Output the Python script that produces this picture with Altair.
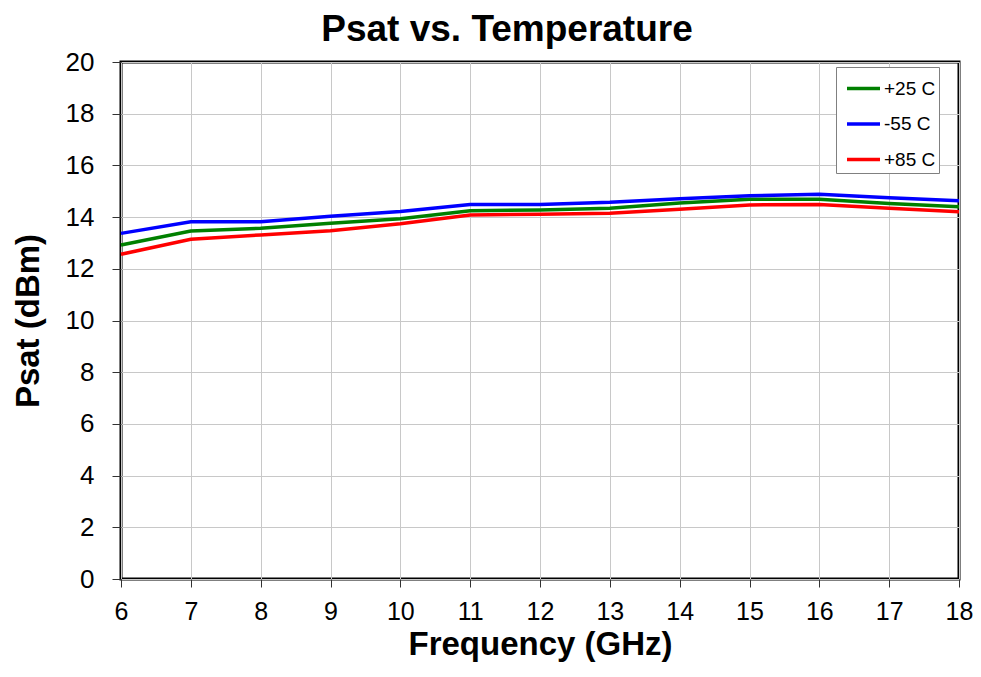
import altair as alt
import pandas as pd

freq = [6, 7, 8, 9, 10, 11, 12, 13, 14, 15, 16, 17, 18]
psat_p25 = [12.92, 13.46, 13.57, 13.76, 13.94, 14.25, 14.27, 14.34, 14.55, 14.69, 14.69, 14.53, 14.40]
psat_m55 = [13.37, 13.82, 13.82, 14.03, 14.22, 14.49, 14.49, 14.57, 14.71, 14.83, 14.88, 14.75, 14.63]
psat_p85 = [12.56, 13.14, 13.31, 13.47, 13.74, 14.08, 14.11, 14.15, 14.30, 14.47, 14.49, 14.34, 14.21]
series = ["+25 C", "-55 C", "+85 C"]
colors = ["#008000", "#0000ff", "#ff0000"]
y_ticks = list(range(0, 21, 2))

rows = []
for name, vals in zip(series, [psat_p25, psat_m55, psat_p85]):
    for f, v in zip(freq, vals):
        rows.append({"freq": f, "psat": v, "series": name})
df = pd.DataFrame(rows)

FONT = "Liberation Sans"

chart = alt.Chart(df).mark_line(strokeWidth=3.5).encode(
    x=alt.X("freq:Q", title="Frequency (GHz)",
            scale=alt.Scale(domain=[6, 18], nice=False),
            axis=alt.Axis(values=freq, tickSize=8, labelPadding=12,
                          labelFontSize=25, titlePadding=4)),
    y=alt.Y("psat:Q", title="Psat (dBm)",
            scale=alt.Scale(domain=[0, 20], nice=False),
            axis=alt.Axis(values=y_ticks, tickSize=9, labelPadding=18,
                          titlePadding=20)),
    color=alt.Color("series:N", sort=series,
                    scale=alt.Scale(domain=series, range=colors),
                    legend=alt.Legend(title=None, orient="none",
                                      legendX=715, legendY=5,
                                      symbolType="stroke", symbolSize=1089,
                                      symbolStrokeWidth=3.5,
                                      symbolOffset=6,
                                      labelFontSize=19, labelFont=FONT,
                                      labelColor="#000000",
                                      rowPadding=6.5, padding=3,
                                      labelOffset=2,
                                      fillColor="#ffffff",
                                      strokeColor="#808080")),
    detail="series:N",
).properties(
    width=838, height=517,
    autosize=alt.AutoSizeParams(type="none"),
    padding={"left": 113, "top": 54, "right": 14, "bottom": 90},
    title=alt.TitleParams("Psat vs. Temperature", fontSize=37, font=FONT,
                          fontWeight="bold", color="#000000", anchor="middle",
                          dx=-33, offset=0),
).configure_view(
    stroke="#000000", strokeWidth=3
).configure_axis(
    labelFont=FONT, labelFontSize=26, labelColor="#000000",
    titleFont=FONT, titleFontSize=33, titleFontWeight="bold", titleColor="#000000",
    grid=True, gridColor="#c8c8c8", gridWidth=1,
    domain=False, tickColor="#333333", tickWidth=1,
    labelOverlap=False, labelFlush=False
)

chart.save("out.html", embed_options={"renderer": "svg", "actions": False})
